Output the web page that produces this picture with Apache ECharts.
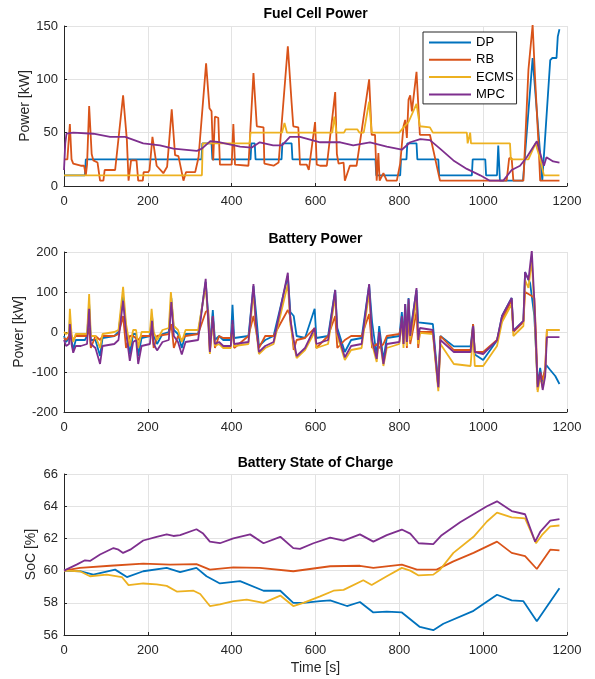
<!DOCTYPE html>
<html><head><meta charset="utf-8">
<script src="https://cdn.jsdelivr.net/npm/echarts@6/dist/echarts.min.js"></script>
<style>html,body{margin:0;padding:0;background:#fff}#c{width:595px;height:679px}</style>
</head><body><div id="c"></div>
<script>
var seriesNames = ['DP', 'RB', 'ECMS', 'MPC'];
var colors = ['#0072BD', '#D95319', '#EDB120', '#7E2F8E'];
var xTicks = [0, 200, 400, 600, 800, 1000, 1200];

// Fuel cell power [kW] : [time s, value]
var fcDP = [[0,10],[50,10],[52,25],[328,25],[330,40],[352,40],[354,25],[445,25],[447,40],[455,40],[457,25],[519,25],[521,40],[543,40],[545,25],[743,25],[745,10],[802,10],[804,25],[817,25],[819,40],[841,40],[843,25],[893,25],[895,10],[973,10],[975,25],[1005,25],[1007,10],[1033,10],[1036,38],[1040,5],[1095,5],[1118,120],[1141,5],[1145,5],[1160,118],[1165,120],[1175,120],[1178,140],[1182,147]];
var fcRB = [[0,25],[8,25],[14,58],[18,25],[22,21],[40,19],[48,19],[52,10],[55,20],[60,75],[66,30],[70,24],[80,22],[86,5],[94,5],[97,15],[122,15],[141,85],[150,43],[154,5],[160,24],[173,24],[177,5],[188,5],[190,13],[201,13],[204,15],[211,46],[221,19],[237,12],[246,18],[257,72],[265,29],[273,28],[285,5],[291,13],[313,13],[321,27],[339,115],[347,73],[352,70],[356,24],[360,65],[368,64],[372,20],[400,20],[404,58],[408,20],[440,19],[452,106],[460,56],[476,55],[478,21],[500,19],[512,22],[534,131],[543,78],[547,56],[559,55],[563,20],[579,20],[584,15],[599,60],[603,20],[611,19],[627,19],[647,88],[651,30],[655,21],[667,22],[670,5],[676,12],[682,19],[698,19],[728,100],[734,48],[742,48],[746,5],[750,31],[753,5],[762,12],[770,5],[794,5],[802,21],[810,56],[814,62],[818,45],[822,81],[826,85],[830,70],[841,107],[849,48],[873,48],[897,5],[1056,5],[1062,26],[1068,26],[1072,5],[1096,5],[1108,109],[1118,151],[1124,100],[1132,40],[1136,5],[1182,5]];
var fcECMS = [[0,10],[329,10],[331,40],[443,40],[445,50],[520,50],[526,59],[532,50],[640,50],[645,65],[650,50],[668,50],[672,53],[700,53],[705,50],[715,50],[728,79],[734,50],[800,50],[810,55],[822,60],[841,77],[849,56],[873,55],[880,50],[961,50],[963,40],[967,40],[969,50],[971,40],[1064,40],[1066,25],[1096,25],[1108,25],[1125,40],[1136,25],[1145,10],[1182,10]];
var fcMPC = [[0,15],[3,40],[6,49],[22,50],[70,49],[110,46],[146,46],[189,40],[229,38],[261,35],[317,33],[329,35],[349,42],[372,41],[420,37],[448,36],[467,41],[499,38],[520,38],[539,46],[563,46],[611,41],[659,41],[690,38],[730,41],[770,37],[806,34],[826,41],[850,44],[873,43],[897,35],[929,24],[961,16],[993,10],[1016,5],[1048,5],[1068,15],[1088,19],[1104,27],[1128,42],[1140,25],[1145,19],[1151,27],[1167,23],[1182,22]];

// Battery power [kW]
var bpDP = [[0,-10],[5,-25],[12,-15],[14,30],[18,-20],[22,-45],[28,-20],[50,-20],[55,-10],[60,70],[64,-20],[75,-20],[86,-60],[92,-15],[120,-10],[130,0],[141,90],[148,10],[157,-55],[165,-5],[172,-5],[177,-60],[185,-15],[205,-10],[210,40],[214,-10],[222,-30],[235,-5],[250,0],[256,85],[262,5],[272,-5],[281,-40],[290,-5],[320,-5],[338,125],[344,45],[348,-35],[355,55],[360,-20],[370,-10],[380,-20],[398,-20],[402,68],[406,-15],[440,-10],[452,115],[458,50],[465,-35],[480,-20],[500,-10],[534,140],[540,50],[548,40],[555,-10],[575,-15],[598,58],[602,-15],[630,-10],[647,105],[652,10],[670,-50],[685,-20],[710,-15],[728,118],[735,25],[746,-60],[752,15],[762,-70],[770,-15],[800,-10],[806,50],[810,-15],[814,70],[818,-10],[822,85],[826,0],[841,105],[845,24],[880,20],[893,-130],[898,-10],[930,-36],[970,-36],[976,20],[980,-56],[1000,-70],[1033,-21],[1045,40],[1068,85],[1072,3],[1096,28],[1100,150],[1112,122],[1116,125],[1122,40],[1130,-130],[1136,-90],[1142,-130],[1150,-82],[1160,-95],[1172,-110],[1182,-130]];
var bpRB = [[0,-15],[5,-20],[12,-10],[14,0],[18,-10],[22,-20],[28,-10],[55,-10],[60,10],[64,-40],[75,-10],[86,-20],[92,-10],[120,-10],[130,-5],[141,40],[148,-40],[157,-10],[165,-10],[177,-20],[185,-10],[205,-10],[210,0],[214,-40],[222,-10],[250,-5],[256,20],[262,-40],[272,-10],[281,-20],[290,-10],[320,-5],[338,50],[344,55],[348,-50],[355,40],[360,-40],[370,-10],[380,-15],[398,-15],[402,10],[406,-40],[440,-10],[452,40],[458,5],[465,-40],[480,-10],[500,-10],[534,55],[540,40],[548,-45],[555,-20],[575,-15],[598,10],[602,-40],[630,-10],[647,40],[652,-40],[670,-20],[685,-10],[710,-10],[728,45],[735,-40],[746,-30],[752,-40],[762,-30],[770,-10],[800,-5],[806,20],[810,-30],[814,40],[818,-40],[822,45],[826,-30],[841,50],[845,-40],[849,0],[880,0],[893,-140],[898,-10],[930,-45],[970,-45],[976,20],[980,-50],[1000,-50],[1033,-20],[1045,30],[1068,80],[1072,0],[1096,25],[1100,100],[1116,90],[1122,85],[1126,-5],[1130,-145],[1136,-100],[1142,-120],[1148,-90],[1152,5],[1182,5]];
var bpECMS = [[0,0],[5,-5],[12,0],[14,58],[18,-5],[22,-25],[28,-5],[55,-5],[60,95],[64,-10],[75,-10],[86,-40],[92,-5],[120,0],[130,5],[141,113],[148,20],[157,-35],[165,5],[172,5],[177,-40],[185,0],[205,0],[209,58],[214,0],[222,-20],[235,5],[250,10],[255,100],[262,15],[272,5],[281,-25],[290,5],[320,5],[338,115],[344,30],[348,-55],[355,30],[360,-35],[370,-30],[380,-40],[398,-40],[402,20],[406,-35],[440,-30],[452,100],[458,10],[465,-55],[480,-40],[500,-30],[534,120],[540,20],[548,-30],[555,-65],[575,-45],[598,0],[602,-40],[630,-30],[647,90],[652,-10],[670,-70],[685,-45],[710,-40],[728,100],[735,-30],[746,-75],[752,-10],[762,-85],[770,-40],[800,-30],[806,30],[810,-40],[814,55],[818,-35],[822,70],[826,-20],[841,80],[845,-30],[849,-2],[880,-5],[893,-148],[898,-30],[930,-80],[970,-85],[976,0],[980,-85],[1000,-85],[1033,-35],[1045,25],[1068,70],[1072,-10],[1096,15],[1100,130],[1108,110],[1116,180],[1122,60],[1130,-150],[1136,-110],[1142,-140],[1148,-100],[1152,5],[1182,5]];
var bpMPC = [[0,-20],[5,-35],[12,-30],[14,20],[18,-30],[22,-52],[28,-35],[40,-35],[55,-30],[60,58],[64,-30],[75,-40],[86,-80],[92,-35],[120,-30],[130,-20],[141,78],[148,0],[157,-72],[165,-25],[172,-20],[177,-80],[185,-35],[205,-30],[210,28],[214,-30],[222,-46],[235,-25],[250,-20],[256,75],[262,-10],[272,-25],[281,-56],[290,-25],[320,-20],[338,133],[344,30],[348,-50],[355,40],[360,-30],[370,-25],[380,-35],[398,-35],[402,30],[406,-30],[440,-25],[452,120],[458,20],[465,-50],[480,-35],[500,-25],[534,148],[540,30],[548,-20],[555,-60],[575,-40],[598,10],[602,-30],[630,-20],[647,105],[652,0],[670,-63],[685,-35],[710,-30],[728,120],[735,-20],[746,-67],[752,0],[762,-80],[770,-30],[800,-25],[806,40],[810,-30],[814,70],[818,-25],[822,83],[826,-10],[841,110],[845,-20],[849,10],[880,5],[893,-138],[898,-20],[930,-50],[970,-50],[976,15],[980,-50],[1000,-55],[1033,-21],[1045,40],[1068,85],[1072,3],[1096,28],[1100,150],[1108,130],[1116,204],[1122,80],[1130,-138],[1136,-100],[1142,-145],[1148,-110],[1152,-13],[1182,-13]];

// Battery state of charge [%]
var socDP = [[0,60],[38,59.96],[70,59.75],[122,60.06],[150,59.6],[189,59.96],[245,60.17],[277,59.9],[316,60.17],[340,59.65],[372,59.2],[420,59.35],[476,58.75],[516,58.75],[547,58.0],[571,58.0],[611,58.1],[635,58.15],[675,57.8],[706,58.05],[738,57.4],[770,57.45],[806,57.4],[849,56.5],[881,56.3],[905,56.7],[977,57.5],[1033,58.5],[1068,58.15],[1096,58.1],[1128,56.85],[1182,58.9]];
var socRB = [[0,60],[38,60.17],[110,60.3],[189,60.43],[253,60.37],[316,60.4],[348,60.06],[404,60.2],[467,60.17],[547,59.96],[635,60.27],[706,60.3],[738,60.17],[806,60.37],[842,60.06],[889,60.06],[929,60.57],[977,61.1],[1033,61.8],[1068,61.1],[1100,60.9],[1128,60.1],[1160,61.3],[1182,61.25]];
var socECMS = [[0,60],[38,59.96],[62,59.65],[102,59.75],[138,59.6],[154,59.1],[189,59.2],[221,59.15],[245,59.05],[269,58.7],[309,58.75],[325,58.55],[348,57.8],[372,57.9],[404,58.1],[436,58.2],[476,58.0],[516,58.45],[547,57.8],[571,58.0],[611,58.4],[643,58.75],[667,58.8],[714,59.4],[734,59.1],[770,59.65],[806,60.17],[826,60.0],[846,59.7],[881,59.75],[897,60.05],[929,61.1],[977,62.1],[1009,63.05],[1033,63.6],[1068,63.3],[1100,63.25],[1126,61.7],[1140,62.2],[1160,62.75],[1182,62.8]];
var socMPC = [[0,60],[30,60.37],[50,60.64],[62,60.6],[86,61.0],[118,61.4],[130,61.3],[141,61.1],[158,61.3],[189,61.87],[221,62.1],[245,62.25],[261,62.15],[277,62.2],[316,62.57],[332,62.3],[348,61.8],[372,61.7],[404,62.0],[444,62.25],[476,61.7],[516,62.1],[547,61.4],[563,61.35],[595,61.7],[635,62.05],[667,61.86],[706,62.25],[738,61.8],[770,62.2],[806,62.55],[826,62.3],[846,61.7],[881,61.65],[901,62.2],[945,63.0],[977,63.5],[1009,64.0],[1033,64.3],[1068,63.7],[1100,63.5],[1124,61.8],[1136,62.4],[1160,63.1],[1182,63.2]];

var fcData = [fcDP, fcRB, fcECMS, fcMPC];
var bpData = [bpDP, bpRB, bpECMS, bpMPC];
var socData = [socDP, socRB, socECMS, socMPC];

var FONT = '"Liberation Sans", Arial, Helvetica, sans-serif';
var axisCol = '#262626';
var gridCol = '#e3e3e3';

function xAx(idx, name) {
  return {
    type: 'value', gridIndex: idx, min: 0, max: 1200, interval: 200,
    name: name || '', nameLocation: 'middle', nameGap: 26, nameMoveOverlap: false,
    nameTextStyle: {fontFamily: FONT, fontSize: 14, color: axisCol},
    axisLine: {show: true, onZero: false, lineStyle: {color: axisCol, width: 1}},
    axisTick: {show: true, inside: true, length: 3, lineStyle: {color: axisCol}},
    axisLabel: {fontFamily: FONT, fontSize: 13, color: axisCol, margin: 9,
      formatter: function (v) { return String(v); }},
    splitLine: {show: true, lineStyle: {color: gridCol, width: 1}}
  };
}
function yAx(idx, min, max, interval, name, gap) {
  return {
    type: 'value', gridIndex: idx, min: min, max: max, interval: interval,
    name: name, nameLocation: 'middle', nameGap: gap, nameMoveOverlap: false,
    nameTextStyle: {fontFamily: FONT, fontSize: 14, color: axisCol},
    axisLine: {show: true, onZero: false, lineStyle: {color: axisCol, width: 1}},
    axisTick: {show: true, inside: true, length: 3, lineStyle: {color: axisCol}},
    axisLabel: {fontFamily: FONT, fontSize: 13, color: axisCol, margin: 6,
      formatter: function (v) { return String(v); }},
    splitLine: {show: true, lineStyle: {color: gridCol, width: 1}}
  };
}

var series = [];
[fcData, bpData, socData].forEach(function (group, gi) {
  group.forEach(function (d, si) {
    series.push({
      type: 'line', name: seriesNames[si], xAxisIndex: gi, yAxisIndex: gi,
      data: d, symbol: 'none', showSymbol: false, animation: false,
      lineStyle: {color: colors[si], width: 1.8}, itemStyle: {color: colors[si]}
    });
  });
});

var chart = echarts.init(document.getElementById('c'), null, {renderer: 'canvas'});
chart.setOption({
  backgroundColor: '#fff',
  animation: false,
  grid: [
    {left: 64, width: 503, top: 26, height: 160},
    {left: 64, width: 503, top: 252, height: 160},
    {left: 64, width: 503, top: 474, height: 161}
  ],
  xAxis: [xAx(0), xAx(1), xAx(2, 'Time [s]')],
  yAxis: [
    yAx(0, 0, 150, 50, 'Power [kW]', 32),
    yAx(1, -200, 200, 100, 'Power [kW]', 38),
    yAx(2, 56, 66, 2, 'SoC [%]', 26)
  ],
  legend: {
    data: seriesNames, orient: 'vertical', left: 423, top: 32,
    icon: 'rect', itemWidth: 42, itemHeight: 2, itemGap: 2.3, padding: [3, 3, 2, 6],
    backgroundColor: '#fff', borderColor: axisCol, borderWidth: 1, borderRadius: 0,
    textStyle: {fontFamily: FONT, fontSize: 13, lineHeight: 15, color: '#000'}
  },
  graphic: [
    {type: 'text', x: 315.5, y: 14, style: {text: 'Fuel Cell Power', textAlign: 'center', textVerticalAlign: 'middle', font: 'bold 14px ' + FONT, fill: '#000'}},
    {type: 'text', x: 315.5, y: 239, style: {text: 'Battery Power', textAlign: 'center', textVerticalAlign: 'middle', font: 'bold 14px ' + FONT, fill: '#000'}},
    {type: 'text', x: 315.5, y: 463, style: {text: 'Battery State of Charge', textAlign: 'center', textVerticalAlign: 'middle', font: 'bold 14px ' + FONT, fill: '#000'}}
  ],
  series: series
});
</script></body></html>
